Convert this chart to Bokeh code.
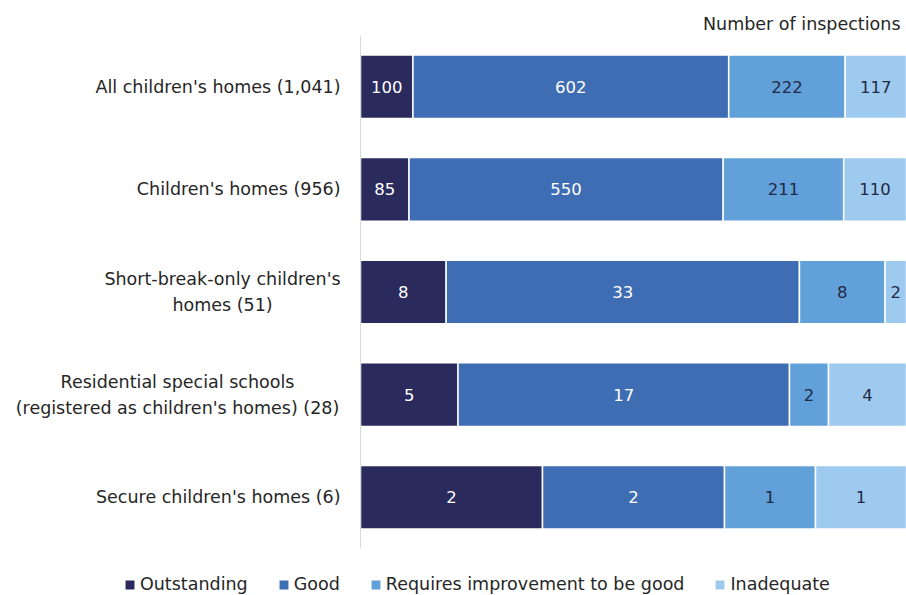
from bokeh.plotting import figure
from bokeh.models import ColumnDataSource, Range1d, Legend, LegendItem, Title
from bokeh.core.properties import value
from bokeh.embed import file_html
from bokeh.resources import INLINE

categories = [
    "All children's homes (1,041)",
    "Children's homes (956)",
    "Short-break-only children's\nhomes (51)",
    "Residential special schools\n(registered as children's homes) (28)",
    "Secure children's homes (6)",
]
outstanding = [100, 85, 8, 5, 2]
good = [602, 550, 33, 17, 2]
requires_improvement = [222, 211, 8, 2, 1]
inadequate = [117, 110, 2, 4, 1]

series_names = ["Outstanding", "Good", "Requires improvement to be good", "Inadequate"]
colors = ["#2B2A5C", "#3F6DB4", "#62A0DA", "#9FCAF0"]
label_colors = ["#FFFFFF", "#FFFFFF", "#1F2A44", "#1F2A44"]

FONT = "DejaVu Sans"
FS = "17.5px"
TEXT_COLOR = "#262626"

series = [outstanding, good, requires_improvement, inadequate]
keys = ["o", "g", "r", "i"]
n = len(categories)
totals = [sum(v) for v in zip(*series)]
ypos = [n - 1 - i for i in range(n)]  # first category at top
data = {"cat": categories, "y": ypos}
for k, s in zip(keys, series):
    data[k] = [v / t for v, t in zip(s, totals)]
source = ColumnDataSource(data)

W, H = 906, 595
LABEL_AREA = 360       # px to the left of the bars
TOP_BORDER = 35
ROW_PX = 102.6
x_start = -LABEL_AREA / (W - LABEL_AREA)
y_top = n - 0.5
y_bottom = y_top - (H - TOP_BORDER) / ROW_PX

p = figure(
    width=W, height=H,
    x_range=Range1d(x_start, 1), y_range=Range1d(y_bottom, y_top),
    output_backend="svg", toolbar_location=None,
)
p.min_border_left = 0
p.min_border_right = 0
p.min_border_top = TOP_BORDER
p.min_border_bottom = 0
p.outline_line_color = None
p.background_fill_color = "white"
p.border_fill_color = "white"
p.xaxis.visible = False
p.yaxis.visible = False
p.xgrid.visible = False
p.ygrid.visible = False

renderers = p.hbar_stack(keys, y="y", height=0.62, color=colors,
                         line_color="white", line_width=1.5, source=source)

# vertical axis line at the start of the bars, spanning the category bands
p.segment(x0=[0], y0=[-0.5], x1=[0], y1=[n - 0.5], line_color="#D9D9D9", line_width=1)

# value labels centred in each segment
for idx, (k, s) in enumerate(zip(keys, series)):
    mids = []
    for row in range(n):
        left = sum(data[kk][row] for kk in keys[:idx])
        mids.append(left + data[k][row] / 2)
    lsrc = ColumnDataSource(dict(x=mids, y=ypos, t=[str(v) for v in s]))
    p.text(x="x", y="y", text="t", source=lsrc, text_align="center",
           text_baseline="middle", text_color=label_colors[idx],
           text_font=value(FONT), text_font_size="16.5px")

# category labels (single-line: right aligned; two-line: centred block)
single_t = [c for c in categories if "\n" not in c]
single_y = [y for c, y in zip(categories, ypos) if "\n" not in c]
multi_t = [c for c in categories if "\n" in c]
multi_y = [y for c, y in zip(categories, ypos) if "\n" in c]
multi_offsets = [-138, -183]
p.text(x=[0] * len(single_t), y=single_y, text=single_t, x_offset=-20,
       text_align="right", text_baseline="middle",
       text_font=value(FONT), text_font_size=FS, text_color=TEXT_COLOR)
p.text(x=[0] * len(multi_t), y=multi_y, text=multi_t, x_offset=multi_offsets,
       text_align="center", text_baseline="middle", text_line_height=1.3,
       text_font=value(FONT), text_font_size=FS, text_color=TEXT_COLOR)

title = Title(text="Number of inspections", align="right", text_font=FONT,
              text_font_size=FS, text_font_style="normal",
              text_color=TEXT_COLOR, offset=6, standoff=4)
p.add_layout(title, "above")

legend = Legend(items=[LegendItem(label=nm, renderers=[r]) for nm, r in zip(series_names, renderers)],
                orientation="horizontal", location=(123, 1),
                glyph_width=13, glyph_height=13, label_standoff=4, spacing=29,
                label_text_font=FONT, label_text_font_size=FS,
                label_text_color=TEXT_COLOR, border_line_color=None,
                background_fill_alpha=0, padding=0, margin=0)
p.add_layout(legend, "center")

open("out.html", "w").write(file_html(p, INLINE))
